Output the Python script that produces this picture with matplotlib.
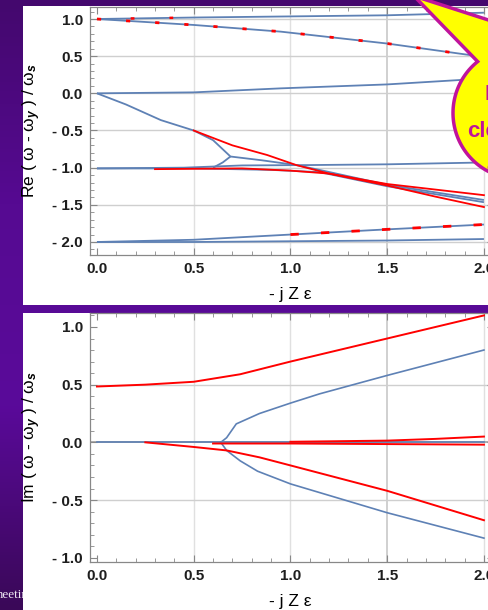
import numpy as np
import matplotlib.pyplot as plt
from matplotlib.path import Path
from matplotlib.patches import PathPatch, Rectangle
from matplotlib.colors import LinearSegmentedColormap
from matplotlib.ticker import FixedLocator, FixedFormatter, MultipleLocator

plt.rcParams['font.family'] = ['Liberation Sans', 'DejaVu Sans']
plt.rcParams['font.weight'] = 'bold'
plt.rcParams['mathtext.fontset'] = 'custom'
plt.rcParams['mathtext.rm'] = 'Liberation Sans:bold'
plt.rcParams['mathtext.it'] = 'Liberation Sans:italic:bold'

# ---- datos ----
# parte real (panel superior)
re_top_x = [0.0, 0.5, 1.0, 1.5, 2.0]
re_top_y = [1.0, 1.02, 1.035, 1.05, 1.085]
re_fall_x = [0.0, 0.5, 0.95, 1.5, 1.9, 2.0]
re_fall_y = [1.0, 0.92, 0.83, 0.67, 0.525, 0.49]
re_zero_x = [0.0, 0.5, 0.95, 1.5, 1.88, 2.0]
re_zero_y = [0.0, 0.013, 0.067, 0.12, 0.18, 0.2]
re_dive_x = [0.0, 0.15, 0.33, 0.5, 0.6, 0.69, 0.85, 1.03, 1.15, 1.5, 2.0]
re_dive_y = [0.0, -0.15, -0.36, -0.5, -0.63, -0.85, -0.9, -0.965, -1.03, -1.23, -1.435]
re_fork_x = [0.6, 0.65, 0.69]
re_fork_y = [-1.0, -0.93, -0.85]
re_m1_x = [0.0, 0.45, 0.75, 1.1, 1.5, 2.0]
re_m1_y = [-1.01, -1.0, -0.97, -0.965, -0.955, -0.93]
re_m1b_x = [0.0, 0.5, 0.9, 1.15, 1.5, 2.0]
re_m1b_y = [-1.01, -1.01, -1.03, -1.06, -1.25, -1.465]
re_m2_x = [0.0, 0.5, 1.0, 1.5, 2.0]
re_m2_y = [-2.0, -2.0, -1.99, -1.98, -1.96]
re_m2up_x = [0.0, 0.5, 1.0, 1.5, 2.0]
re_m2up_y = [-2.0, -1.97, -1.9, -1.83, -1.765]
re_red1_x = [0.5, 0.7, 0.88, 1.03, 1.2, 1.5, 1.75, 2.0]
re_red1_y = [-0.5, -0.7, -0.83, -0.965, -1.08, -1.24, -1.39, -1.53]
re_red2_x = [0.3, 0.5, 0.75, 1.0, 1.2, 1.5, 2.0]
re_red2_y = [-1.02, -1.015, -1.01, -1.04, -1.08, -1.22, -1.37]

# parte imaginaria (panel inferior)
im_red_up_x = [0.0, 0.25, 0.5, 0.74, 1.0, 1.5, 2.0]
im_red_up_y = [0.484, 0.50, 0.525, 0.59, 0.70, 0.90, 1.10]
im_blue_up_x = [0.64, 0.67, 0.72, 0.84, 1.0, 1.15, 1.5, 2.0]
im_blue_up_y = [0.0, 0.04, 0.16, 0.25, 0.34, 0.42, 0.58, 0.80]
im_blue_dn_x = [0.64, 0.67, 0.74, 0.83, 1.0, 1.5, 2.0]
im_blue_dn_y = [0.0, -0.07, -0.16, -0.25, -0.36, -0.61, -0.83]
im_red_dn_x = [0.25, 0.5, 0.67, 0.84, 1.0, 1.5, 2.0]
im_red_dn_y = [0.0, -0.04, -0.07, -0.13, -0.2, -0.42, -0.675]
im_red_flat_x = [0.6, 1.0, 1.5, 2.0]
im_red_flat_y = [-0.01, -0.01, -0.015, -0.02]
im_red_rise_x = [1.0, 1.5, 1.75, 2.0]
im_red_rise_y = [0.005, 0.015, 0.03, 0.05]
im_blue_zero_x = [0.0, 0.5, 1.0, 1.5, 2.0]
im_blue_zero_y = [0.0, 0.0, 0.0, 0.0, 0.0]

xticks = [0.0, 0.5, 1.0, 1.5, 2.0]
xtick_labels = ['0.0', '0.5', '1.0', '1.5', '2.0']
re_yticks = [1.0, 0.5, 0.0, -0.5, -1.0, -1.5, -2.0]
re_ytick_labels = ['1.0', '0.5', '0.0', '- 0.5', '- 1.0', '- 1.5', '- 2.0']
im_yticks = [1.0, 0.5, 0.0, -0.5, -1.0]
im_ytick_labels = ['1.0', '0.5', '0.0', '- 0.5', '- 1.0']

BLUE = '#5e81b5'
RED = '#ff0000'
MAG = '#c0149c'

fig = plt.figure(figsize=(4.88, 6.10), dpi=100)

# fondo de la diapositiva (coordenadas en pixeles)
bg = fig.add_axes([0, 0, 1, 1], zorder=-10)
bg.set_xlim(0, 488)
bg.set_ylim(610, 0)
bg.axis('off')
cmap = LinearSegmentedColormap.from_list('slide', ['#44086e', '#560a92', '#5a0a9a', '#3a0858'])
bg.imshow(np.linspace(0, 1, 200).reshape(-1, 1), extent=[0, 488, 610, 0],
          aspect='auto', cmap=cmap, zorder=0)
bg.text(-7, 598, 'meeting', family='Liberation Serif', fontweight='normal',
        fontsize=9.5, color='#ece4f2', zorder=1)
bg.add_patch(Rectangle((23, 6), 465, 299, fc='white', ec='none', zorder=2))
bg.add_patch(Rectangle((23, 313), 465, 297, fc='white', ec='none', zorder=2))

W = 403.6 / 488
ax1 = fig.add_axes([90 / 488, 1 - 255 / 610, W, 248 / 610])
ax2 = fig.add_axes([90 / 488, 1 - 562 / 610, W, 249 / 610])


def frame(ax, yt, ytl, ylims, gy):
    ax.set_xlim(-0.036, 2.05)
    ax.set_ylim(*ylims)
    ax.xaxis.set_major_locator(FixedLocator(xticks))
    ax.xaxis.set_major_formatter(FixedFormatter(xtick_labels))
    ax.yaxis.set_major_locator(FixedLocator(yt))
    ax.yaxis.set_major_formatter(FixedFormatter(ytl))
    ax.xaxis.set_minor_locator(MultipleLocator(0.1))
    ax.yaxis.set_minor_locator(MultipleLocator(0.1))
    ax.tick_params(which='both', direction='in', top=True, right=True,
                   color='#888888', labelcolor='#1e1e1e', labelsize=11)
    ax.tick_params(which='major', length=5, pad=5)
    ax.tick_params(which='minor', length=3)
    for s in ax.spines.values():
        s.set_color('#888888')
        s.set_linewidth(0.9)
    for g in [0.5, 1.0, 2.0]:
        ax.axvline(g, color='#e0e0e0', lw=1, zorder=0)
    ax.axvline(1.5, color='#c8c8c8', lw=1.2, zorder=0)
    for g in gy:
        ax.axhline(g, color='#cfcfcf', lw=1, zorder=0)


frame(ax1, re_yticks, re_ytick_labels, (-2.175, 1.1615), [1.0, 0.5, 0.0, -0.5, -1.0, -1.5, -2.0])
frame(ax2, im_yticks, im_ytick_labels, (-1.037, 1.121), [0.5, -0.5])
ax2.axhline(0.0, color='#a0a0a0', lw=1.2, zorder=0)

# curvas parte real
for xs, ys in [(re_top_x, re_top_y), (re_fall_x, re_fall_y), (re_zero_x, re_zero_y),
               (re_dive_x, re_dive_y), (re_fork_x, re_fork_y), (re_m1_x, re_m1_y),
               (re_m1b_x, re_m1b_y), (re_m2_x, re_m2_y), (re_m2up_x, re_m2up_y)]:
    ax1.plot(xs, ys, color=BLUE, lw=1.3, solid_capstyle='butt')
for xs, ys in [(re_red1_x, re_red1_y), (re_red2_x, re_red2_y)]:
    ax1.plot(xs, ys, color=RED, lw=1.3)
# puntos rojos sueltos sobre las ramas azules
ax1.plot(re_fall_x, re_fall_y, color=RED, lw=2, ls=(0, (1.5, 9)))
ax1.plot(re_m2up_x[2:], re_m2up_y[2:], color=RED, lw=2, ls=(0, (3, 8)))
ax1.plot(re_top_x[:2], re_top_y[:2], color=RED, lw=1.8, ls=(2, (1.5, 14)))

# curvas parte imaginaria
for xs, ys in [(im_blue_zero_x, im_blue_zero_y), (im_blue_up_x, im_blue_up_y),
               (im_blue_dn_x, im_blue_dn_y)]:
    ax2.plot(xs, ys, color=BLUE, lw=1.2)
for xs, ys in [(im_red_up_x, im_red_up_y), (im_red_dn_x, im_red_dn_y),
               (im_red_flat_x, im_red_flat_y), (im_red_rise_x, im_red_rise_y)]:
    ax2.plot(xs, ys, color=RED, lw=1.4)

ax1.set_ylabel(r'Re ( ω - ω$_{y}$ ) / ω$_{s}$', fontsize=12.5)
ax2.set_ylabel(r'Im ( ω - ω$_{y}$ ) / ω$_{s}$', fontsize=12.5)
ax1.set_xlabel('- j Z ε', fontsize=12.5)
ax2.set_xlabel('- j Z ε', fontsize=12.5)
for ax in (ax1, ax2):
    ax.yaxis.set_label_coords(-0.116, 0.5)
    ax.xaxis.set_label_coords(0.4955, -0.13)

# globo amarillo (pixeles)
ov = fig.add_axes([0, 0, 1, 1], zorder=10)
ov.set_xlim(0, 488)
ov.set_ylim(610, 0)
ov.axis('off')
ov.patch.set_alpha(0)
cx, cy, r = 519, 113, 66
t = np.radians(np.linspace(128.8, 380, 120))
verts = list(zip(cx + r * np.cos(t), cy - r * np.sin(t)))
verts += [(600, 56), (414, -4), verts[0]]
codes = [Path.MOVETO] + [Path.LINETO] * (len(verts) - 2) + [Path.CLOSEPOLY]
ov.add_patch(PathPatch(Path(verts, codes), fc='#ffff00', ec=MAG, lw=2.5))
ov.text(485, 100, 'It', color=MAG, fontsize=16)
ov.text(467, 137, 'clearly', color=MAG, fontsize=16)
ov.text(486, 171, 'as', color=MAG, fontsize=16)

fig.savefig('out.png', dpi=100)
